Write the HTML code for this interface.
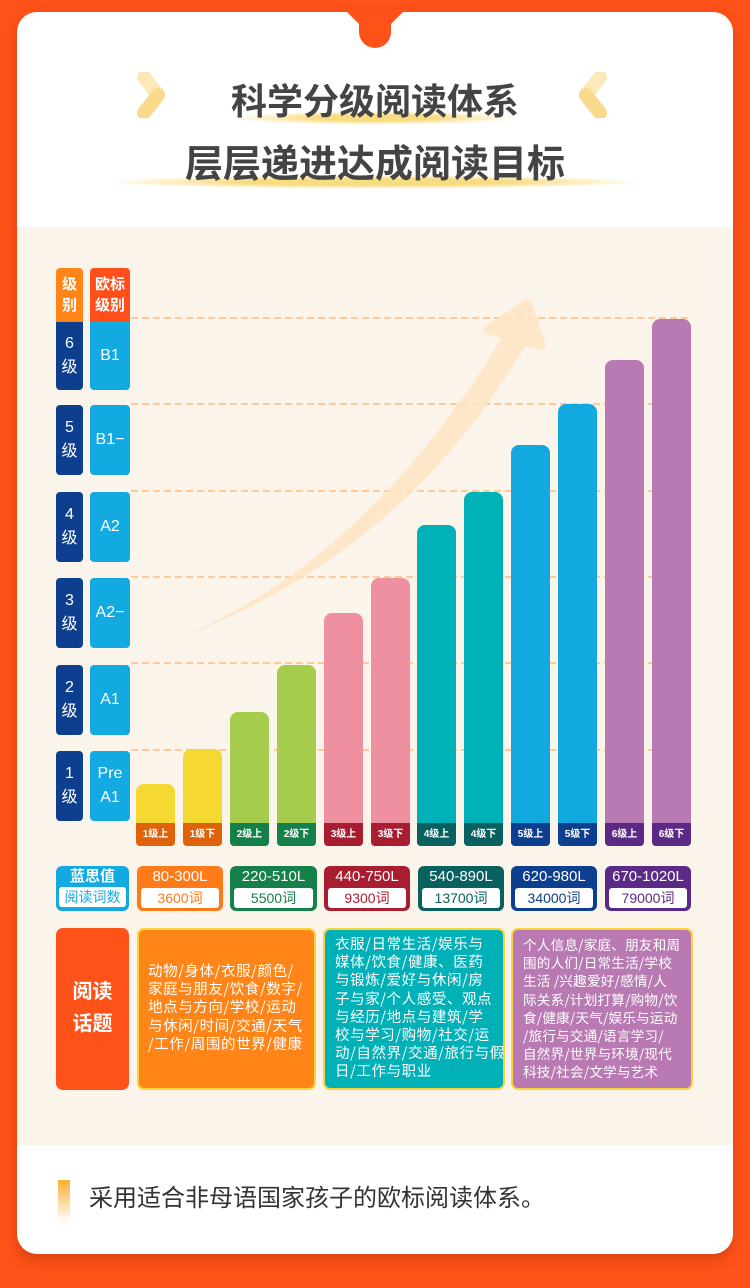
<!DOCTYPE html>
<html><head><meta charset="utf-8"><style>
*{margin:0;padding:0;box-sizing:border-box}
body{width:750px;height:1288px;background:#FF5219;position:relative;overflow:hidden;font-family:"Liberation Sans","Noto Sans CJK SC",sans-serif}
.abs{position:absolute}
.card{left:17px;top:12px;width:716px;height:1242px;background:#fff;border-radius:20px;overflow:hidden;box-shadow:0 6px 12px rgba(150,40,0,.35)}
.beige{left:17px;top:227px;width:716px;height:918px;background:#FBF4EA}
.t{color:#444;font-weight:bold;text-align:center;width:750px;left:0;font-family:"Noto Sans CJK SC",sans-serif}
.cell{color:#fff;text-align:center;border-radius:4px;font-size:16px;display:flex;align-items:center;justify-content:center;line-height:24px}
.bar{width:39px;border-radius:8px 8px 4px 4px;overflow:hidden}
.bar .lb{position:absolute;bottom:0;left:0;width:100%;height:23px;color:#fff;font-size:10px;font-weight:bold;text-align:center;line-height:23px}
.lex{height:45px;border-radius:6px;text-align:center;color:#fff;font-size:15px;line-height:20px;padding-top:1px}
.lex span{display:block;background:#fff;margin:1px 4px 0;border-radius:3px;height:20px;font-size:14px;line-height:20px}
.topic{top:928px;height:162px;border:2px solid #F8D53A;border-radius:7px;color:#fff;font-size:14.5px;line-height:18.2px;padding:6px 0 0 10px;letter-spacing:0.6px;white-space:nowrap;overflow:hidden;font-family:"Noto Sans CJK SC",sans-serif}
</style></head><body>
<div class="abs card"></div>
<div class="abs" style="left:345px;top:10px;width:60px;height:0;border-left:30px solid transparent;border-right:30px solid transparent;border-top:30px solid #FF5219"></div>
<div class="abs" style="left:359px;top:10px;width:32px;height:38px;background:#FF5219;border-radius:0 0 16px 16px"></div>
<div class="abs" style="left:230px;top:111px;width:290px;height:14px;background:radial-gradient(ellipse at center,#F8DC82 30%,rgba(248,220,130,0) 70%)"></div>
<div class="abs" style="left:100px;top:175px;width:550px;height:14px;background:radial-gradient(ellipse at center,#F8DC82 35%,rgba(248,220,130,0) 70%)"></div>
<svg class="abs" style="left:136px;top:72px" width="40" height="46"><path d="M8 5 L22 23 L8 41" stroke="#FCE8B8" stroke-width="14" fill="none" stroke-linecap="round" stroke-linejoin="round"/><path d="M22 23 L8 41" stroke="#F9D98A" stroke-width="14" stroke-linecap="round"/></svg>
<svg class="abs" style="left:568px;top:72px" width="40" height="46"><path d="M32 5 L18 23 L32 41" stroke="#FCE8B8" stroke-width="14" fill="none" stroke-linecap="round" stroke-linejoin="round"/><path d="M18 23 L32 41" stroke="#F9D98A" stroke-width="14" stroke-linecap="round"/></svg>
<div class="abs t" style="top:74px;font-size:36px;line-height:50px">科学分级阅读体系</div>
<div class="abs t" style="top:134px;font-size:38px;line-height:54px">层层递进达成阅读目标</div>
<div class="abs beige"></div>
<svg class="abs" style="left:0;top:0" width="750" height="900">
<g stroke="#FFC999" stroke-width="2" stroke-dasharray="7,4">
<line x1="131" y1="318" x2="692" y2="318"/><line x1="131" y1="404" x2="692" y2="404"/><line x1="131" y1="491" x2="692" y2="491"/><line x1="131" y1="577" x2="692" y2="577"/><line x1="131" y1="663" x2="692" y2="663"/><line x1="131" y1="750" x2="692" y2="750"/>
</g>
<path d="M165 643 Q360 570 502 338 L484 333 Q482 329 486 326 L525 300 Q530 299 532 303 L546 346 Q546 350 542 350 L525 346 Q400 560 165 643 Z" fill="#FFE3C0" opacity="0.8"/>
</svg>
<div class="abs" style="left:56px;top:268px;width:27px;height:56px;background:#FF8519;border-radius:4px 4px 0 0;color:#fff;font-weight:bold;font-size:15px;line-height:21px;text-align:center;padding-top:6px">级<br>别</div>
<div class="abs" style="left:90px;top:268px;width:40px;height:56px;background:#FF4F1A;border-radius:4px 4px 0 0;color:#fff;font-weight:bold;font-size:15px;line-height:21px;text-align:center;padding-top:6px">欧标<br>级别</div>
<div class="abs cell" style="left:56px;top:322px;width:27px;height:68px;background:#0D3F8E;border-radius:0 0 4px 4px">6<br>级</div>
<div class="abs cell" style="left:90px;top:322px;width:40px;height:68px;background:#13A9E1;border-radius:0 0 4px 4px">B1</div>
<div class="abs cell" style="left:56px;top:405px;width:27px;height:70px;background:#0D3F8E">5<br>级</div>
<div class="abs cell" style="left:90px;top:405px;width:40px;height:70px;background:#13A9E1">B1−</div>
<div class="abs cell" style="left:56px;top:492px;width:27px;height:70px;background:#0D3F8E">4<br>级</div>
<div class="abs cell" style="left:90px;top:492px;width:40px;height:70px;background:#13A9E1">A2</div>
<div class="abs cell" style="left:56px;top:578px;width:27px;height:70px;background:#0D3F8E">3<br>级</div>
<div class="abs cell" style="left:90px;top:578px;width:40px;height:70px;background:#13A9E1">A2−</div>
<div class="abs cell" style="left:56px;top:665px;width:27px;height:70px;background:#0D3F8E">2<br>级</div>
<div class="abs cell" style="left:90px;top:665px;width:40px;height:70px;background:#13A9E1">A1</div>
<div class="abs cell" style="left:56px;top:751px;width:27px;height:70px;background:#0D3F8E">1<br>级</div>
<div class="abs cell" style="left:90px;top:751px;width:40px;height:70px;background:#13A9E1">Pre<br>A1</div>

<div class="abs bar" style="left:136px;top:784px;height:62px;background:#F5D832"><div class="lb" style="background:#E0620A">1级上</div></div>
<div class="abs bar" style="left:183px;top:749px;height:97px;background:#F5D832"><div class="lb" style="background:#E0620A">1级下</div></div>
<div class="abs bar" style="left:230px;top:712px;height:134px;background:#A6CC4E"><div class="lb" style="background:#158049">2级上</div></div>
<div class="abs bar" style="left:277px;top:665px;height:181px;background:#A6CC4E"><div class="lb" style="background:#158049">2级下</div></div>
<div class="abs bar" style="left:324px;top:613px;height:233px;background:#EE90A0"><div class="lb" style="background:#A81E30">3级上</div></div>
<div class="abs bar" style="left:371px;top:578px;height:268px;background:#EE90A0"><div class="lb" style="background:#A81E30">3级下</div></div>
<div class="abs bar" style="left:417px;top:525px;height:321px;background:#00B2B8"><div class="lb" style="background:#08605F">4级上</div></div>
<div class="abs bar" style="left:464px;top:492px;height:354px;background:#00B2B8"><div class="lb" style="background:#08605F">4级下</div></div>
<div class="abs bar" style="left:511px;top:445px;height:401px;background:#12A9E1"><div class="lb" style="background:#0D3F8E">5级上</div></div>
<div class="abs bar" style="left:558px;top:404px;height:442px;background:#12A9E1"><div class="lb" style="background:#0D3F8E">5级下</div></div>
<div class="abs bar" style="left:605px;top:360px;height:486px;background:#B97AB3"><div class="lb" style="background:#5B2A86">6级上</div></div>
<div class="abs bar" style="left:652px;top:319px;height:527px;background:#B97AB3"><div class="lb" style="background:#5B2A86">6级下</div></div>

<div class="abs lex" style="left:56px;top:866px;width:73px;background:#13A9E1;font-weight:bold">蓝思值<span style="color:#13A9E1;font-weight:normal;margin:0 3px">阅读词数</span></div>
<div class="abs lex" style="left:137px;top:866px;width:86px;background:#FF7A19">80-300L<span style="color:#FF7A19">3600词</span></div>
<div class="abs lex" style="left:230px;top:866px;width:87px;background:#158049">220-510L<span style="color:#158049">5500词</span></div>
<div class="abs lex" style="left:324px;top:866px;width:86px;background:#A81E30">440-750L<span style="color:#A81E30">9300词</span></div>
<div class="abs lex" style="left:418px;top:866px;width:86px;background:#08605F">540-890L<span style="color:#08605F">13700词</span></div>
<div class="abs lex" style="left:511px;top:866px;width:86px;background:#0D3F8E">620-980L<span style="color:#0D3F8E">34000词</span></div>
<div class="abs lex" style="left:605px;top:866px;width:86px;background:#5B2A86">670-1020L<span style="color:#5B2A86">79000词</span></div>

<div class="abs" style="left:56px;top:928px;width:73px;height:162px;background:#FF5219;border-radius:7px;color:#fff;font-weight:bold;font-size:20px;line-height:32px;text-align:center;padding-top:48px">阅读<br>话题</div>
<div class="abs topic" style="left:137px;width:179px;background:#FF8519;padding-top:32px;padding-left:9px">动物/身体/衣服/颜色/<br>家庭与朋友/饮食/数字/<br>地点与方向/学校/运动<br>与休闲/时间/交通/天气<br>/工作/周围的世界/健康</div>
<div class="abs topic" style="left:323px;width:182px;background:#00B2B8;padding-top:5px">衣服/日常生活/娱乐与<br>媒体/饮食/健康、医药<br>与锻炼/爱好与休闲/房<br>子与家/个人感受、观点<br>与经历/地点与建筑/学<br>校与学习/购物/社交/运<br>动/自然界/交通/旅行与假<br>日/工作与职业</div>
<div class="abs topic" style="left:511px;width:182px;background:#B97AB3;padding-top:5px;font-size:13.6px;letter-spacing:0.2px">个人信息/家庭、朋友和周<br>围的人们/日常生活/学校<br>生活 /兴趣爱好/感情/人<br>际关系/计划打算/购物/饮<br>食/健康/天气/娱乐与运动<br>/旅行与交通/语言学习/<br>自然界/世界与环境/现代<br>科技/社会/文学与艺术</div>

<div class="abs" style="left:58px;top:1180px;width:12px;height:42px;background:linear-gradient(#FFAE34,rgba(255,220,160,0))"></div>
<div class="abs" style="left:89px;top:1180px;font-size:24px;line-height:38px;color:#333">采用适合非母语国家孩子的欧标阅读体系。</div>
</body></html>
